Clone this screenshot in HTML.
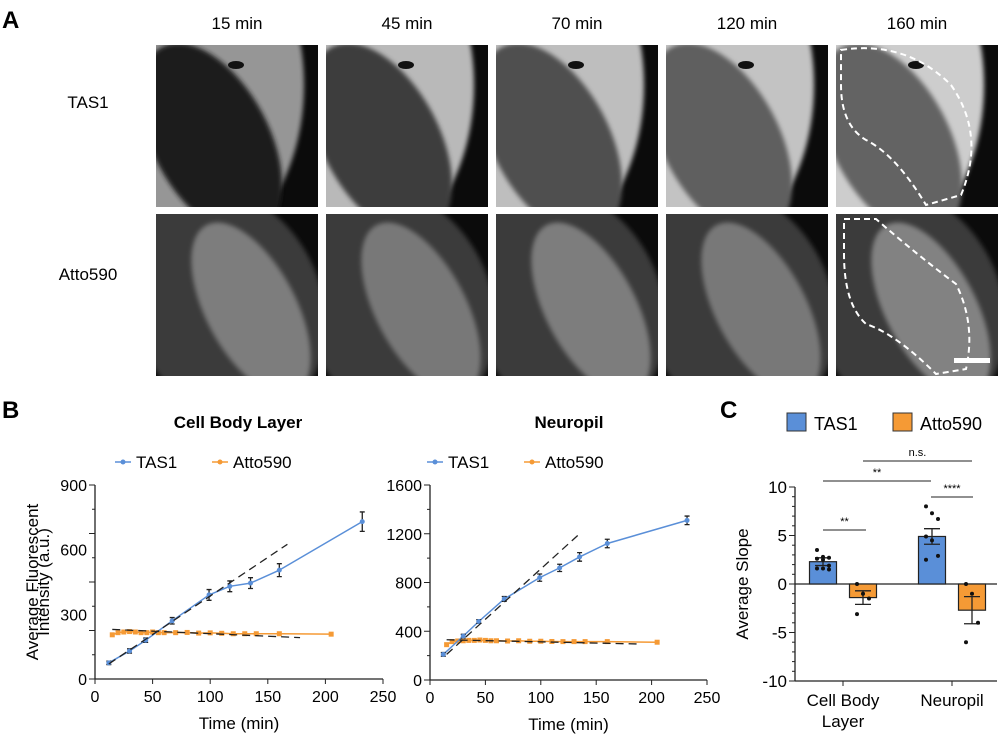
<!DOCTYPE html>
<html><head><meta charset="utf-8"><style>
body{margin:0;background:#fff;}
svg{display:block;font-family:"Liberation Sans",Arial,sans-serif;}
</style></head><body>
<svg id="fig" width="1000" height="736" viewBox="0 0 1000 736">
<defs>
<filter id="blur2"><feGaussianBlur stdDeviation="2.5"/></filter>
</defs>
<g id="panelA"></g>
<g id="chart1"></g>
<g id="chart2"></g>
<g id="chart3"></g>
</svg>
<script>
// ---- Panel B data: Cell Body Layer ----
const cbTasT=[12,30,44,67,99,117,135,160,232];
const cbTasV=[75,130,180,270,390,430,445,505,730];
const cbTasE=[8,10,10,15,25,25,25,30,45];
const cbAttT=[15,20,25,30,35,40,45,50,55,60,70,80,90,100,110,120,130,140,160,205];
const cbAttV=[205,215,218,220,218,215,215,218,215,215,215,216,213,214,212,210,210,210,210,208];
const cbFitTas=[[12,70],[167,625]];
const cbFitAtt=[[15,230],[178,192]];
// ---- Neuropil ----
const npTasT=[12,30,44,67,99,117,135,160,232];
const npTasV=[210,360,480,665,840,920,1010,1120,1310];
const npTasE=[15,15,15,20,30,30,35,35,35];
const npAttT=[15,20,25,30,35,40,45,50,55,60,70,80,90,100,110,120,130,140,160,205];
const npAttV=[290,315,320,322,325,325,328,325,322,322,320,322,318,318,316,315,315,315,315,310];
const npFitTas=[[15,210],[135,1200]];
const npFitAtt=[[15,330],[190,295]];
// ---- Panel C data ----
const slopeGroups=["Cell Body Layer","Neuropil"];
const slopeTas=[2.3,4.9];
const slopeTasE=[0.4,0.8];
const slopeAtt=[-1.4,-2.7];
const slopeAttE=[0.7,1.4];
const dotsTas=[[3.5,2.8,2.7,2.6,2.5,1.9,1.6,1.6,1.5],[8,7.3,6.7,4.9,4.5,2.9,2.5]];
const dotsAtt=[[0,-1,-1.5,-3.1],[0,-1,-4,-6]];
const x1Ticks=[0,50,100,150,200,250];
const y1Ticks=[0,300,600,900];
const y2Ticks=[0,400,800,1200,1600];
const y3Ticks=[-10,-5,0,5,10];

const NS="http://www.w3.org/2000/svg";
const BLUE="#5a8fd8",ORANGE="#f59a35";
function mk(p,tag,at,txt){const e=document.createElementNS(NS,tag);for(const k in at)e.setAttribute(k,at[k]);if(txt!==undefined)e.textContent=txt;p.appendChild(e);return e;}

// ---- Panel A ----
const A=document.getElementById('panelA');
let t=mk(A,'text',{x:2,y:28,'font-size':24,'font-weight':'bold'},'A');


const times=["15 min","45 min","70 min","120 min","160 min"];
const colX=[156,326,496,666,836];
times.forEach((s,i)=>{const e=mk(A,'text',{x:colX[i]+81,y:29,'font-size':17,'text-anchor':'middle'},s);

});
const rl1=mk(A,'text',{x:88,y:108,'font-size':17,'text-anchor':'middle'},'TAS1');


const rl2=mk(A,'text',{x:88,y:280,'font-size':17,'text-anchor':'middle'},'Atto590');


const inner=[26,60,80,95,100];
const outer=[150,185,190,195,205];
colX.forEach((x,i)=>{
  [45,214].forEach((y,r)=>{
    const g=mk(A,'g',{transform:`translate(${x},${y})`});
    
    
    mk(g,'clipPath',{id:`c${i}${r}`}).appendChild(document.createElementNS(NS,'rect')).setAttribute('width',162);
    document.querySelector(`#c${i}${r} rect`).setAttribute('height',162);
    const cg=mk(g,'g',{'clip-path':`url(#c${i}${r})`});
    mk(cg,'rect',{width:162,height:162,fill:'#0b0b0b'});
    if(r===0){
      const o=outer[i];
      mk(cg,'ellipse',{cx:30,cy:40,rx:118,ry:170,fill:`rgb(${o},${o},${o})`,filter:'url(#blur2)'});
      const v=inner[i];
      mk(cg,'ellipse',{cx:55,cy:95,rx:58,ry:105,transform:'rotate(-28 55 95)',fill:`rgb(${v},${v},${v})`,filter:'url(#blur2)'});
      mk(cg,'ellipse',{cx:80,cy:20,rx:8,ry:4,fill:'#111'});
    }else{
      mk(cg,'ellipse',{cx:70,cy:90,rx:95,ry:120,transform:'rotate(-25 70 90)',fill:'#3a3a3a',filter:'url(#blur2)'});
      const v=[125,120,125,120,130][i];
      mk(cg,'ellipse',{cx:95,cy:95,rx:45,ry:95,transform:'rotate(-28 95 95)',fill:`rgb(${v},${v},${v})`,filter:'url(#blur2)'});
    }
    if(i===4){
      if(r===0) mk(cg,'path',{d:'M5 5 Q70 -5 115 40 Q150 90 125 150 L90 160 Q60 110 30 95 Q5 80 5 40 Z',fill:'none',stroke:'#fff','stroke-width':2,'stroke-dasharray':'6 4'});
      else {mk(cg,'path',{d:'M8 5 L40 5 Q80 40 120 70 Q140 110 130 155 L100 160 Q60 120 30 110 Q8 90 8 40 Z',fill:'none',stroke:'#fff','stroke-width':2,'stroke-dasharray':'6 4'});
        mk(cg,'rect',{x:118,y:144,width:36,height:5,fill:'#fff'});}
    }
  });
});

// ---- line charts ----
function lineChart(id,o){
  const G=document.getElementById(id);
  const sx=v=>o.x0+v*(o.x1-o.x0)/250, sy=v=>o.y0-v*(o.y0-o.yTop)/o.yMax;
  let e=mk(G,'text',{x:o.tx,y:428,'font-size':17,'font-weight':'bold','text-anchor':'middle'},o.title);
  
  
  // legend
  const lg=mk(G,'g',{});
  
  
  [[BLUE,'TAS1',o.lx],[ORANGE,'Atto590',o.lx+97]].forEach(([c,s,x])=>{
    mk(lg,'line',{x1:x,y1:462,x2:x+16,y2:462,stroke:c,'stroke-width':1.5});
    mk(lg,'circle',{cx:x+8,cy:462,r:2.5,fill:c});
    const tt=mk(lg,'text',{x:x+21,y:468,'font-size':17},s);
    
    
  });
  // axes
  mk(G,'path',{d:`M${o.x0} ${o.yTop}V${o.y0}H${o.x1}`,stroke:'#222','stroke-width':1.3,fill:'none'});
  x1Ticks.forEach(v=>{mk(G,'line',{x1:sx(v),x2:sx(v),y1:o.y0,y2:o.y0+5,stroke:'#222'});
    const tt=mk(G,'text',{x:sx(v),y:o.y0+23,'font-size':16,'text-anchor':'middle'},v);
    
    });
  for(let v=0;v<=o.yMax;v+=o.yMax/8) mk(G,'line',{x1:o.x0-(v%(o.yMax/4)===0?6:3),x2:o.x0,y1:sy(v),y2:sy(v),stroke:'#222'});
  o.yTicks.forEach(v=>{const tt=mk(G,'text',{x:o.x0-8,y:sy(v)+6,'font-size':16,'text-anchor':'end'},v);
    
    });
  e=mk(G,'text',{x:(o.x0+o.x1)/2,y:o.y0+50,'font-size':17,'text-anchor':'middle'},'Time (min)');
  
  
  mk(G,'polyline',{points:o.aT.map((t,i)=>sx(t)+','+sy(o.aV[i])).join(' '),fill:'none',stroke:ORANGE,'stroke-width':1.5});
  o.aT.forEach((t,i)=>{const c=mk(G,'rect',{x:sx(t)-2.5,y:sy(o.aV[i])-2.5,width:5,height:5,fill:ORANGE});
    
    });
  mk(G,'polyline',{points:o.tT.map((t,i)=>sx(t)+','+sy(o.tV[i])).join(' '),fill:'none',stroke:BLUE,'stroke-width':1.5,'stroke-linejoin':'round'});
  o.tT.forEach((t,i)=>{const x=sx(t),y=sy(o.tV[i]),ee=o.tE[i]*(o.y0-o.yTop)/o.yMax;
    mk(G,'path',{d:`M${x} ${y-ee}V${y+ee}M${x-2.5} ${y-ee}h5M${x-2.5} ${y+ee}h5`,stroke:'#222','stroke-width':1.3});
    const c=mk(G,'circle',{cx:x,cy:y,r:2.5,fill:BLUE});
    
    });
  [o.fT,o.fA].forEach(f=>{const l=mk(G,'line',{x1:sx(f[0][0]),y1:sy(f[0][1]),x2:sx(f[1][0]),y2:sy(f[1][1]),stroke:'#222','stroke-width':1.3,'stroke-dasharray':'8 5'});
    
    });
}
lineChart('chart1',{x0:95,x1:383,y0:679,yTop:485,yMax:900,yTicks:y1Ticks,title:'Cell Body Layer',tx:238,lx:115,
  tT:cbTasT,tV:cbTasV,tE:cbTasE,aT:cbAttT,aV:cbAttV,fT:cbFitTas,fA:cbFitAtt});
lineChart('chart2',{x0:430,x1:707,y0:680,yTop:485,yMax:1600,yTicks:y2Ticks,title:'Neuropil',tx:569,lx:427,
  tT:npTasT,tV:npTasV,tE:npTasE,aT:npAttT,aV:npAttV,fT:npFitTas,fA:npFitAtt});
{const G=document.getElementById('chart1');
 let e=mk(G,'text',{x:2,y:418,'font-size':24,'font-weight':'bold'},'B');
 
 
 e=mk(G,'text',{'font-size':17,'text-anchor':'middle',transform:'translate(38,582) rotate(-90)'},'Average Fluorescent');
 
 
 e=mk(G,'text',{'font-size':17,'text-anchor':'middle',transform:'translate(49,582) rotate(-90)'},'Intensity (a.u.)');
 
 }

// ---- Chart C ----
{const G=document.getElementById('chart3');
 const X0=795,X1=997,Y0=584,k=(681-487)/20;
 const sy=v=>Y0-v*k;
 let e=mk(G,'text',{x:720,y:418,'font-size':24,'font-weight':'bold'},'C');
 
 
 [[BLUE,'TAS1',787],[ORANGE,'Atto590',893]].forEach(([c,s,x])=>{
   const r=mk(G,'rect',{x:x,y:413,width:19,height:18,fill:c,stroke:'#333'});
   
   
   const tt=mk(G,'text',{x:x+27,y:430,'font-size':18},s);
   
   });
 mk(G,'line',{x1:X0,x2:X0,y1:487,y2:681,stroke:'#222','stroke-width':1.3});
 mk(G,'line',{x1:X0,x2:X1,y1:681,y2:681,stroke:'#222','stroke-width':1.3});
 mk(G,'line',{x1:X0,x2:X1,y1:Y0,y2:Y0,stroke:'#222','stroke-width':1.3});
 for(let v=-10;v<=10;v++) mk(G,'line',{x1:X0-(v%5===0?6:3),x2:X0,y1:sy(v),y2:sy(v),stroke:'#222'});
 y3Ticks.forEach(v=>{const tt=mk(G,'text',{x:X0-8,y:sy(v)+6,'font-size':17,'text-anchor':'end'},v);
   
   });
 e=mk(G,'text',{'font-size':17,'text-anchor':'middle',transform:'translate(748,584) rotate(-90)'},'Average Slope');
 
 
 const gc=[843,952];
 slopeGroups.forEach((g,i)=>{
   mk(G,'line',{x1:gc[i],x2:gc[i],y1:681,y2:686,stroke:'#222'});
   const lines=i===0?['Cell Body','Layer']:['Neuropil'];
   lines.forEach((s,j)=>{const tt=mk(G,'text',{x:gc[i],y:706+j*21,'font-size':17,'text-anchor':'middle'},s);
     
     });
   [[slopeTas[i],slopeTasE[i],dotsTas[i],BLUE,-20],[slopeAtt[i],slopeAttE[i],dotsAtt[i],ORANGE,20]].forEach(([v,er,d,c,off])=>{
     const cx=gc[i]+off;
     const b=mk(G,'rect',{x:cx-13.5,y:Math.min(sy(v),Y0),width:27,height:Math.abs(sy(v)-Y0),fill:c,stroke:'#222','stroke-width':1.2});
     
     
     mk(G,'path',{d:`M${cx} ${sy(v+er)}V${sy(v-er)}M${cx-8} ${sy(v+er)}h16M${cx-8} ${sy(v-er)}h16`,stroke:'#222','stroke-width':1.3});
     d.forEach((dv,j)=>{const p=mk(G,'circle',{cx:cx+((j%3)-1)*6,cy:sy(dv),r:2,fill:'#111'});
       
       });
   });
 });
 const sig=[[823,866,530,'**'],[823,931,481,'**'],[931,973,497,'****'],[863,972,461,'n.s.']];
 sig.forEach(([a,b,y,s])=>{mk(G,'line',{x1:a,x2:b,y1:y,y2:y,stroke:'#222','stroke-width':1.1});
   const tt=mk(G,'text',{x:(a+b)/2,y:y-5,'font-size':11,'text-anchor':'middle'},s);
   
   });
}
</script>
</body></html>
